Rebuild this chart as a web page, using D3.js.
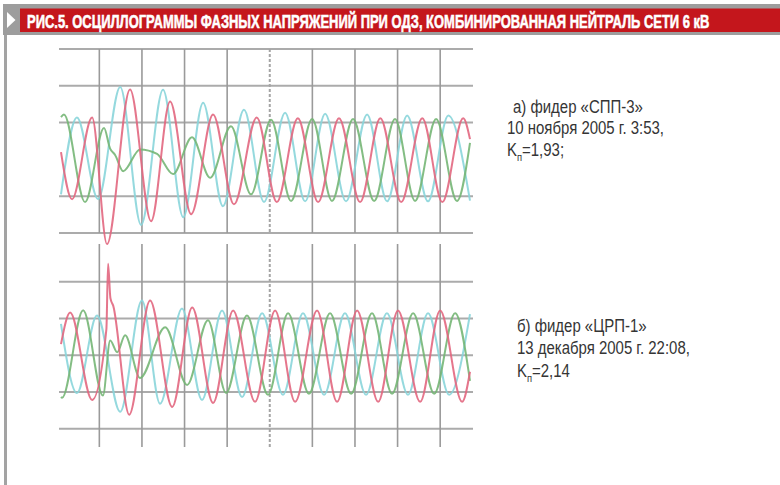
<!DOCTYPE html>
<html>
<head>
<meta charset="utf-8">
<script src="https://cdn.jsdelivr.net/npm/d3@7"></script>
<style>
	body { margin: 0; background: #fff; }
	svg { display: block; }
</style>
</head>
<body>
<div id="graphicContainer"></div>
<script>

var titleText = "РИС.5. ОСЦИЛЛОГРАММЫ ФАЗНЫХ НАПРЯЖЕНИЙ ПРИ ОДЗ, КОМБИНИРОВАННАЯ НЕЙТРАЛЬ СЕТИ 6 кВ"

// time in ms, one grid division = 20 ms
var timeTicks = [0, 20, 40, 60, 80, 100, 120, 140, 160]
var dashedTick = 80

// voltage in grid units
var levelsA = [-2, -1, 1, 2, 3]
var levelsB = [-2, -1, 0, 1, 2]

// waveform turning points [t, u]
var redA = [[-18, 0.2], [-12.8, -1.08], [-3.4, 1.14], [3.6, -2.3], [14.4, 1.9], [24.3, -1.68], [33.2, 1.57], [43.1, -1.49], [53.4, 1.22], [63.2, -1.22], [73.9, 1.14], [83.3, -1.16], [93.2, 1.12], [102.7, -1.16], [112.5, 1.12], [122.4, -1.16], [131.9, 1.12], [141.7, -1.16], [151.6, 1.12], [161.0, -1.16], [170.8, 1.12], [174, 0.55]]
var cyanA = [[-18, -0.95], [-10.5, 1.14], [-0.6, -1.08], [9.8, 1.97], [19.6, -1.78], [29.9, 1.89], [39.4, -1.57], [48.7, 1.54], [58.0, -1.27], [67.9, 1.35], [77.3, -1.16], [87.2, 1.27], [96.6, -1.14], [106.0, 1.24], [115.8, -1.14], [125.7, 1.22], [135.1, -1.14], [144.5, 1.19], [154.3, -1.14], [163.8, 1.19], [174, -1.12]]
var greenA = [[-18, 1.15], [-16.6, 1.22], [-6.7, -1.16], [2.2, 0.85], [5.0, 0.3], [7.4, 0.12], [11.2, -0.32], [19.1, 0.27], [27.1, 0.15], [34.6, -0.4], [43.5, 0.6], [52.0, -0.5], [61.8, 0.9], [71.2, -0.95], [80.6, 1.08], [90.0, -1.13], [99.9, 1.1], [109.2, -1.13], [119.1, 1.1], [129.0, -1.13], [138.8, 1.1], [148.2, -1.13], [158.1, 1.1], [167.9, -1.13], [174, 0.45]]

var redB = [[-18, 0.3], [-13.7, 1.16], [-3.4, -1.22], [3.3, 0.7], [4.1, 2.49], [5.2, 1.55], [6.5, 1.35], [14.0, -1.62], [23.8, 1.49], [34.2, -1.41], [43.6, 1.3], [53.4, -1.3], [62.8, 1.22], [73.1, -1.27], [82.5, 1.22], [91.9, -1.27], [102.2, 1.22], [111.6, -1.27], [121.0, 1.22], [130.9, -1.27], [140.2, 1.22], [150.6, -1.27], [160.0, 1.22], [170.3, -1.27], [174, -0.45]]
var cyanB = [[-18, 0.85], [-10.5, -1.03], [-1.1, 1.08], [9.8, -1.54], [20.0, 1.49], [28.5, -1.32], [38.8, 1.27], [48.2, -1.22], [57.6, 1.22], [67.0, -1.14], [76.4, 1.14], [86.2, -1.08], [95.6, 1.14], [105.5, -1.08], [115.3, 1.14], [125.2, -1.08], [135.0, 1.14], [144.9, -1.08], [154.3, 1.14], [164.2, -1.08], [174, 1.12]]
var greenB = [[-18, -1.14], [-17.5, -1.16], [-7.6, 1.22], [1.7, -1.1], [5.1, 0.4], [8.4, 0.08], [12.1, 0.54], [19.1, -0.62], [30.9, 0.76], [41.2, -0.81], [51.0, 0.95], [59.5, -1.03], [69.3, 1.08], [79.2, -1.08], [88.6, 1.14], [98.4, -1.05], [108.3, 1.14], [118.2, -1.05], [128.0, 1.14], [137.4, -1.05], [147.3, 1.14], [157.2, -1.05], [167.0, 1.14], [174, -0.7]]

var captionA = ["а) фидер «СПП-3»", "10 ноября 2005 г. 3:53,"]
var kA = "=1,93;"
var captionB = ["б) фидер «ЦРП-1»", "13 декабря 2005 г. 22:08,"]
var kB = "=2,14"

var phaseColors = ["#8ad5da", "#76b676", "#e2677f"]

var width = 780, height = 485
var textFont = "'Liberation Sans', Arial, sans-serif"
var narrow = 0.855

var svg = d3.select("#graphicContainer").append("svg")
	.attr("width", width)
	.attr("height", height)

var defs = svg.append("defs")
defs.append("filter")
	.attr("id", "soft")
	.append("feGaussianBlur")
	.attr("stdDeviation", 0.45)

// header
svg.append("rect")
	.attr("x", 3).attr("y", 4)
	.attr("width", width - 3).attr("height", 31)
	.attr("fill", "#9d9d9d")

svg.append("rect")
	.attr("x", 20).attr("y", 8.5)
	.attr("width", width - 20).attr("height", 23.5)
	.attr("fill", "#c4161c")

svg.append("path")
	.attr("d", "M7,12 L15.5,20 L7,28 Z")
	.attr("fill", "#fff")

svg.append("rect")
	.attr("x", 4).attr("y", 35)
	.attr("width", 3).attr("height", height - 35)
	.attr("fill", "#a3a3a3")

// title squeezed into the red band
var title = svg.append("text")
	.attr("fill", "#fff")
	.attr("stroke", "#fff")
	.attr("stroke-width", 0.6)
	.attr("font-family", textFont)
	.attr("font-weight", "bold")
	.attr("font-size", 19)
	.text(titleText)
var titleLen = title.node().getComputedTextLength()
title.attr("transform", `translate(27,28.3) scale(${683 / titleLen},1)`)

var x = d3.scaleLinear()
	.domain([-18, 174])
	.range([61, 470])

var panels = [
	{series: [cyanA, greenA, redA], levels: levelsA, domain: [-2, 3], range: [233, 49], top: 49, bottom: 233,
		caption: captionA, k: kA, textX: [513, 507, 507], textY: [112.5, 134, 155.5]},
	{series: [cyanB, greenB, redB], levels: levelsB, domain: [-2.5, 3], range: [447, 245], top: 244, bottom: 447,
		caption: captionB, k: kB, textX: [517, 517, 517], textY: [331.5, 354, 376.5]}
]

panels.forEach(p => {

	var y = d3.scaleLinear()
		.domain(p.domain)
		.range(p.range)

	var g = svg.append("g")

	var grid = g.append("g").attr("filter", "url(#soft)")

	grid.selectAll(".h")
		.data(p.levels)
		.join("line")
		.attr("class", "h")
		.attr("x1", 59)
		.attr("x2", 473)
		.attr("y1", d => y(d))
		.attr("y2", d => y(d))
		.attr("stroke", "#ababab")
		.attr("stroke-width", 2)

	grid.selectAll(".v")
		.data(timeTicks)
		.join("line")
		.attr("class", "v")
		.attr("x1", d => x(d))
		.attr("x2", d => x(d))
		.attr("y1", p.top)
		.attr("y2", p.bottom)
		.attr("stroke", d => d == dashedTick ? "#a5a5a5" : "#9a9a9a")
		.attr("stroke-width", d => d == dashedTick ? 2 : 1.6)
		.attr("stroke-dasharray", d => d == dashedTick ? "3,2" : null)

	var line = d3.line()
		.curve(d3.curveMonotoneX)
		.x(d => x(d[0]))
		.y(d => y(d[1]))

	g.append("g")
		.attr("filter", "url(#soft)")
		.selectAll("path")
		.data(p.series)
		.join("path")
		.attr("fill", "none")
		.attr("stroke", (d, i) => phaseColors[i])
		.attr("stroke-width", 2)
		.attr("stroke-linejoin", "round")
		.attr("opacity", 0.9)
		.attr("d", line)

	var text = g.append("g")
		.attr("font-family", textFont)
		.attr("font-size", 17.5)
		.attr("fill", "#353535")

	p.caption.forEach((c, i) => {
		text.append("text")
			.attr("transform", `translate(${p.textX[i]},${p.textY[i]}) scale(${narrow},1)`)
			.text(c)
	})

	var k = text.append("text")
		.attr("transform", `translate(${p.textX[2]},${p.textY[2]}) scale(${narrow},1)`)
	k.append("tspan").text("K")
	k.append("tspan").attr("font-size", 11).attr("dy", 5).text("п")
	k.append("tspan").attr("dy", -5).text(p.k)

})

</script>
</body>
</html>
